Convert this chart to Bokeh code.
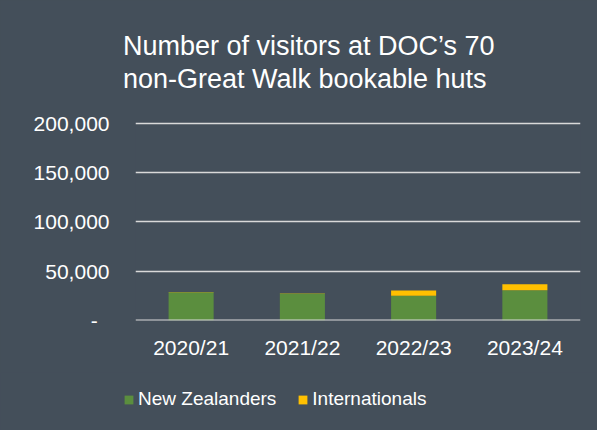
from bokeh.plotting import figure
from bokeh.layouts import column
from bokeh.models import FixedTicker, Legend, LegendItem, Title, Span, FactorRange
from bokeh.embed import file_html
from bokeh.resources import INLINE

# ---- data ----
years = ["2020/21", "2021/22", "2022/23", "2023/24"]
new_zealanders = [28600, 27300, 25000, 30800]
internationals = [400, 400, 5500, 6100]
series = ["new_zealanders", "internationals"]
series_labels = ["New Zealanders", "Internationals"]
series_colors = ["#5b8e3e", "#ffc000"]
y_ticks = [0, 50000, 100000, 150000, 200000]
y_tick_labels = ["-\u00a0\u00a0", "50,000", "100,000", "150,000", "200,000"]
title_text = "Number of visitors at DOC\u2019s 70\nnon-Great Walk bookable huts"

BG = "#444f5a"
TXT = "#ffffff"
FONT = "Liberation Sans"

# small headroom above the top tick so its grid line is not clipped
p = figure(x_range=FactorRange(*years), y_range=(0, 202030),
           width=597, height=372, output_backend="svg", toolbar_location=None,
           min_border_left=135, min_border_right=17, min_border_top=121,
           min_border_bottom=52)
p.background_fill_color = BG
p.border_fill_color = BG
p.outline_line_color = None
p.frame_align = False
p.styles = {"background-color": BG}

src = dict(years=years, new_zealanders=new_zealanders, internationals=internationals)
rs = p.vbar_stack(series, x="years", width=0.405, color=series_colors,
                  line_color=None, source=src)

# y axis
p.yaxis.ticker = FixedTicker(ticks=y_ticks)
p.yaxis.major_label_overrides = dict(zip(y_ticks, y_tick_labels))
p.yaxis.axis_line_color = None
p.yaxis.major_tick_line_color = None
p.yaxis.minor_tick_line_color = None
p.yaxis.major_tick_out = 0
p.yaxis.major_label_standoff = 26
p.yaxis.major_label_text_font = FONT
p.yaxis.major_label_text_font_size = "21px"
p.yaxis.major_label_text_color = TXT

# x axis
p.xaxis.axis_line_color = None
p.xaxis.major_tick_line_color = None
p.xaxis.minor_tick_line_color = None
p.xaxis.major_tick_out = 0
p.xaxis.major_label_standoff = 15
p.xaxis.major_label_text_font = FONT
p.xaxis.major_label_text_font_size = "21px"
p.xaxis.major_label_text_color = TXT

p.xgrid.grid_line_color = None
p.ygrid.grid_line_color = "#d9d9d9"
p.ygrid.grid_line_width = 1.3
p.ygrid.ticker = FixedTicker(ticks=y_ticks[1:])
p.add_layout(Span(location=0, dimension="width", line_color="#d9d9d9", line_width=2))

# title (two lines)
title = Title(text=title_text, align="right", offset=86, vertical_align="bottom",
              standoff=56, text_font=FONT, text_font_size="27px",
              text_font_style="normal", text_color=TXT, text_line_height=1.1)
p.add_layout(title, "above")

# legend strip underneath (same colours as the bar renderers)
pl = figure(width=597, height=58, output_backend="svg", toolbar_location=None,
            min_border=0, x_axis_type=None, y_axis_type=None,
            x_range=(0, 1), y_range=(0, 1))
pl.background_fill_color = BG
pl.border_fill_color = BG
pl.outline_line_color = None
pl.grid.grid_line_color = None
pl.frame_align = False
pl.styles = {"background-color": BG}
# hidden swatch renderers: they only feed the legend
dummies = [pl.vbar(x=[0.5], top=[1], width=1, color=c, line_color=None, visible=False)
           for c in series_colors]
legend = Legend(items=[LegendItem(label=series_labels[i], renderers=[dummies[i]]) for i in range(2)],
                orientation="horizontal", location=(123, 20),
                background_fill_alpha=0, border_line_color=None,
                inactive_fill_alpha=0,
                label_text_font=FONT, label_text_font_size="19px", label_text_color=TXT,
                glyph_width=11, glyph_height=11, label_standoff=4, spacing=21,
                padding=0, margin=0)
pl.add_layout(legend, "center")

layout = column(p, pl, spacing=0)
layout.styles = {"background-color": BG}
open("out.html", "w").write(file_html(layout, INLINE))
